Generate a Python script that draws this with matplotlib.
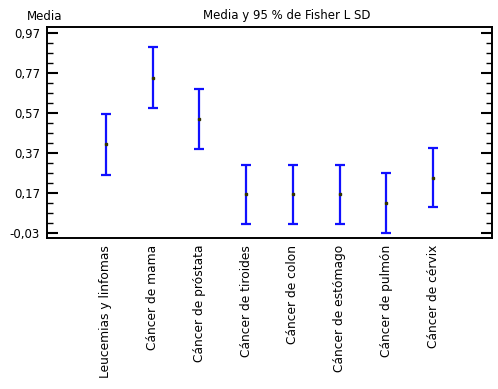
import matplotlib.pyplot as plt
from matplotlib.ticker import FixedLocator, FuncFormatter

categories = ["Leucemias y linfomas", "Cáncer de mama", "Cáncer de próstata",
              "Cáncer de tiroides", "Cáncer de colon", "Cáncer de estómago",
              "Cáncer de pulmón", "Cáncer de cérvix"]
means = [0.415, 0.745, 0.541, 0.166, 0.166, 0.166, 0.123, 0.248]
lower = [0.262, 0.595, 0.390, 0.018, 0.018, 0.018, -0.027, 0.100]
upper = [0.565, 0.898, 0.691, 0.313, 0.313, 0.313, 0.273, 0.395]
yticks = [-0.03, 0.17, 0.37, 0.57, 0.77, 0.97]

plt.rcParams['font.family'] = ['DejaVu Sans']
fig = plt.figure(figsize=(4.98, 3.89), dpi=100)
ax = fig.add_axes([47/498, 1-238/389, 445/498, 211/389])

x = list(range(len(categories)))
err = [[m - l for m, l in zip(means, lower)], [u - m for m, u in zip(means, upper)]]
ax.errorbar(x, means, yerr=err, fmt='none', ecolor='#1010ff', elinewidth=1.6,
            capsize=3.6, capthick=1.6)
ax.plot(x, means, 's', color='#333300', markersize=1.5)

ax.set_xlim(-1.26, 8.26)
ax.set_ylim(-0.053, 1.0)
ax.set_xticks(x)
ax.set_xticklabels(categories, rotation=90, fontsize=8.8)
ax.tick_params(axis='x', length=0, pad=5)
ax.yaxis.set_major_locator(FixedLocator(yticks))
ax.yaxis.set_minor_locator(FixedLocator([-0.03 + 0.05*i for i in range(21)]))
ax.yaxis.set_major_formatter(FuncFormatter(lambda v, p: ("%.2f" % v).replace('.', ',')))
ax.tick_params(axis='y', which='major', direction='in', length=8, width=1.5,
               right=True, labelsize=8.5, pad=5)
ax.tick_params(axis='y', which='minor', direction='in', length=4, width=1.0, right=True)
for s in ax.spines.values():
    s.set_linewidth(1.4)

fig.text(27/498, 1-16/389, "Media", fontsize=8.5, va='center', ha='left')
fig.text(287/498, 1-16/389, "Media y 95 % de Fisher L SD", fontsize=8.5, va='center', ha='center')

fig.savefig("out.png", dpi=100)
